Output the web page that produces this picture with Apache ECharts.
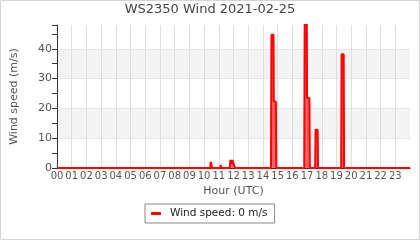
<!DOCTYPE html>
<html><head><meta charset="utf-8">
<script src="https://cdn.jsdelivr.net/npm/echarts@6/dist/echarts.min.js"></script>
<style>html,body{margin:0;padding:0;background:#fff}#c{width:420px;height:240px}</style>
</head><body><div id="c"></div>
<script>
const titleText = 'WS2350 Wind 2021-02-25';
const seriesName = 'Wind speed: 0 m/s';
const hours = [0, 10.42, 10.45, 10.52, 10.55, 11.1, 11.13, 11.16, 11.74, 11.79, 11.86, 11.93, 12.0, 12.06, 12.12,
  14.55, 14.58, 14.72, 14.74, 14.88, 14.91, 16.81, 16.84, 16.98, 17.0, 17.16, 17.19,
  17.55, 17.58, 17.72, 17.75, 19.32, 19.35, 19.49, 19.52, 24];
const speed = [0, 0, 2.1, 2.1, 0, 0, 1.0, 0, 0, 2.7, 1.4, 2.7, 1.5, 1.8, 0,
  0, 44.7, 44.7, 22.3, 22.3, 0, 0, 50, 50, 23.5, 23.5, 0,
  0, 12.8, 12.8, 0, 0, 38.2, 38.2, 0, 0];
const yTicks = [0, 10, 20, 30, 40];

const FONT = 'DejaVu Sans';
const chart = echarts.init(document.getElementById('c'), null, {renderer: 'canvas'});
chart.setOption({
  animation: false,
  title: {text: titleText, left: 'center', top: 3, padding: 0,
    textStyle: {fontFamily: FONT, fontSize: 13, fontWeight: 'normal', color: '#444'}},
  grid: {left: 57, right: 10, top: 25, bottom: 72},
  legend: {
    left: 145, top: 204, padding: [4, 7, 4, 6],
    borderColor: '#888', borderWidth: 1,
    icon: 'rect', itemWidth: 10, itemHeight: 3,
    textStyle: {fontFamily: FONT, fontSize: 10.5, color: '#222', padding: [0, 0, 0, 4]},
    data: [seriesName]
  },
  xAxis: {
    type: 'value', min: 0, max: 24, interval: 1,
    name: 'Hour (UTC)', nameLocation: 'middle', nameGap: 11,
    nameTextStyle: {fontFamily: FONT, fontSize: 11, color: '#545454'},
    axisLine: {show: true, lineStyle: {color: '#333'}},
    axisTick: {show: false},
    axisLabel: {fontFamily: FONT, fontSize: 10, color: '#545454', margin: 3,
      formatter: v => v >= 24 ? '' : String(v).padStart(2, '0')},
    splitLine: {show: true, showMaxLine: false, lineStyle: {color: '#dedede'}}
  },
  yAxis: {
    type: 'value', min: 0, max: 48, interval: 10,
    name: 'Wind speed (m/s)', nameLocation: 'middle', nameGap: 37,
    nameTextStyle: {fontFamily: FONT, fontSize: 11, color: '#545454'},
    axisLine: {show: true, lineStyle: {color: '#333'}},
    axisTick: {show: true, length: 5, lineStyle: {color: '#333'}},
    minorTick: {show: true, splitNumber: 2, length: 5, lineStyle: {color: '#333'}},
    axisLabel: {fontFamily: FONT, fontSize: 11, color: '#545454', margin: 5,
      formatter: v => yTicks.includes(v) ? String(v) : ''},
    splitLine: {show: true, showMaxLine: false, lineStyle: {color: '#e6e6e6'}},
    splitArea: {show: true, areaStyle: {color: ['rgba(255,255,255,0)', '#f4f4f4']}}
  },
  graphic: [{type: 'rect', shape: {x: 0.5, y: 0.5, width: 419, height: 239},
    style: {fill: 'none', stroke: '#d4d4d4', lineWidth: 1}, silent: true}],
  series: [{
    name: seriesName, type: 'line', symbol: 'none', clip: true,
    data: hours.map((h, i) => [h, speed[i]]),
    lineStyle: {color: '#ff0000', width: 2},
    itemStyle: {color: '#ff0000'},
    areaStyle: {color: 'rgba(255,0,0,0.85)'}
  }]
});
</script></body></html>
